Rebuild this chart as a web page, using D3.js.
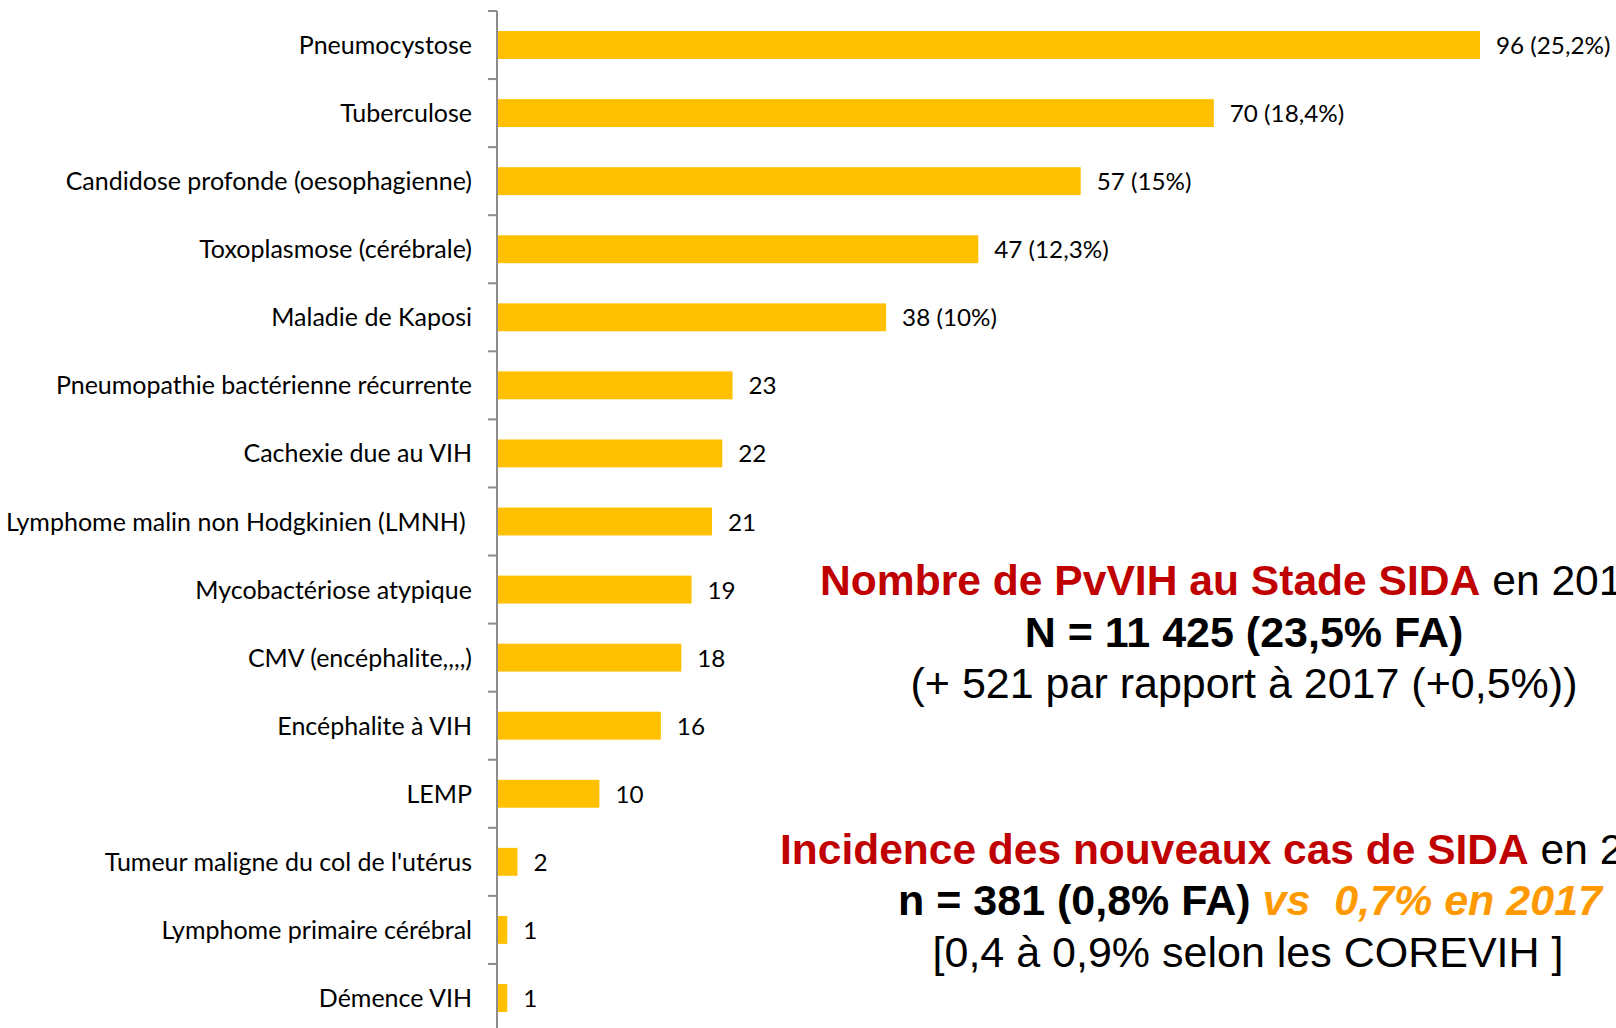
<!DOCTYPE html>
<html>
<head>
<meta charset="utf-8">
<script src="https://cdn.jsdelivr.net/npm/d3@7"></script>
<style>
  html, body { margin: 0; padding: 0; background: #fff; }
  svg { display: block; }
</style>
</head>
<body>
<svg id="chart" width="1616" height="1028"></svg>
<script>
// ---- data ----
const categories = [
  "Pneumocystose",
  "Tuberculose",
  "Candidose profonde (oesophagienne)",
  "Toxoplasmose (cérébrale)",
  "Maladie de Kaposi",
  "Pneumopathie bactérienne récurrente",
  "Cachexie due au VIH",
  "Lymphome malin non Hodgkinien (LMNH) ",
  "Mycobactériose atypique",
  "CMV (encéphalite,,,,)",
  "Encéphalite à VIH",
  "LEMP",
  "Tumeur maligne du col de l'utérus",
  "Lymphome primaire cérébral",
  "Démence VIH"
];
const values = [96, 70, 57, 47, 38, 23, 22, 21, 19, 18, 16, 10, 2, 1, 1];
const percentLabels = ["25,2%", "18,4%", "15%", "12,3%", "10%", null, null, null, null, null, null, null, null, null, null];

const block1Title = ["Nombre de PvVIH au Stade SIDA", " en 2018"];
const block1Line2 = "N = 11 425 (23,5% FA)";
const block1Line3 = "(+ 521 par rapport à 2017 (+0,5%))";
const block2Title = ["Incidence des nouveaux cas de SIDA", " en 2018"];
const block2Line2 = ["n = 381 (0,8% FA)", " vs  0,7% en 2017"];
const block2Line3 = "[0,4 à 0,9% selon les COREVIH ]";

// ---- layout ----
const svg = d3.select("#chart");
const axisX = 497;
const LABEL_FONT = "Lato, 'Open Sans', sans-serif";
const LABEL_SIZE = 25;
const LABEL_SX = 1.0;
const VALUE_SIZE = 24;
const VALUE_SX = 1.01;

const x = d3.scaleLinear().domain([0, 100]).range([axisX, axisX + 1024]);
const y = d3.scaleBand().domain(categories).range([11, 1032]).paddingInner(0.59).paddingOuter(0.295);

// bars
svg.append("g").selectAll("rect")
  .data(categories)
  .join("rect")
  .attr("x", x(0))
  .attr("y", d => y(d))
  .attr("width", (d, i) => x(values[i]) - x(0))
  .attr("height", y.bandwidth())
  .attr("fill", "#FFC000");

// axis line (domain) via d3 axis
const axisG = svg.append("g")
  .attr("transform", `translate(${axisX},0)`)
  .call(d3.axisLeft(y).tickSize(0).tickFormat(""));
axisG.select(".domain").attr("stroke", "#8c8c8c").attr("stroke-width", 2)
  .attr("d", `M0,${y.range()[0]}V1028`);

// boundary ticks
const half = y.step() * y.paddingInner() / 2;
const bounds = categories.map(c => y(c) - half);
bounds.push(y(categories[categories.length - 1]) + y.bandwidth() + half);
axisG.selectAll(".btick")
  .data(bounds)
  .join("line")
  .attr("class", "btick")
  .attr("x1", -9).attr("x2", 0)
  .attr("y1", d => d).attr("y2", d => d)
  .attr("stroke", "#8c8c8c").attr("stroke-width", 2);

// category labels
svg.append("g").selectAll("g")
  .data(categories)
  .join("g")
  .attr("transform", d => `translate(${axisX - 25},${y(d) + y.bandwidth() / 2 + 9}) scale(${LABEL_SX},1)`)
  .append("text")
  .attr("text-anchor", "end")
  .style("white-space", "pre")
  .attr("font-family", LABEL_FONT)
  .attr("font-size", LABEL_SIZE)
  .attr("fill", "#000")
  .text(d => d);

// value labels
svg.append("g").selectAll("g")
  .data(categories)
  .join("g")
  .attr("transform", (d, i) => `translate(${x(values[i]) + 16},${y(d) + y.bandwidth() / 2 + 9}) scale(${VALUE_SX},1)`)
  .append("text")
  .attr("font-family", LABEL_FONT)
  .attr("font-size", VALUE_SIZE)
  .attr("fill", "#000")
  .text((d, i) => percentLabels[i] ? `${values[i]} (${percentLabels[i]})` : `${values[i]}`);

// ---- annotations ----
const ANN_FONT = "'Liberation Sans', Arial, sans-serif";
function annLine(parts, cx, by, anchor, size) {
  const t = svg.append("text")
    .attr("x", cx).attr("y", by)
    .attr("text-anchor", anchor || "middle")
    .attr("font-family", ANN_FONT)
    .attr("font-size", size || 43)
    .style("white-space", "pre");
  parts.forEach(p => {
    t.append("tspan")
      .attr("fill", p.color)
      .attr("font-weight", p.bold ? "bold" : "normal")
      .attr("font-style", p.italic ? "italic" : "normal")
      .text(p.text);
  });
  return t;
}
annLine([{text: block1Title[0], color: "#C00000", bold: true}, {text: block1Title[1], color: "#000"}], 820, 595, "start", 42.6);
annLine([{text: block1Line2, color: "#000", bold: true}], 1244, 647);
annLine([{text: block1Line3, color: "#000"}], 1244, 698);

annLine([{text: block2Title[0], color: "#C00000", bold: true}, {text: block2Title[1], color: "#000"}], 780, 864, "start", 42.5);
annLine([{text: block2Line2[0], color: "#000", bold: true}, {text: block2Line2[1], color: "#FF9900", bold: true, italic: true}], 1250, 915);
annLine([{text: block2Line3, color: "#000"}], 1248, 967);
</script>
</body>
</html>
